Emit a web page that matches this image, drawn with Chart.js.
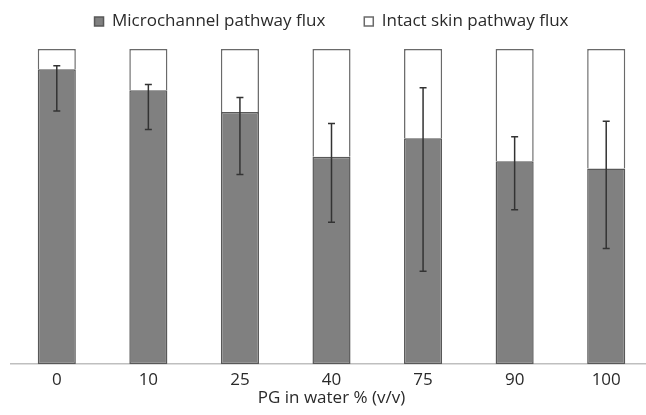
<!DOCTYPE html>
<html>
<head>
<meta charset="utf-8">
<script src="https://cdn.jsdelivr.net/npm/chart.js@4.4.1/dist/chart.umd.min.js"></script>
<style>
    html, body { margin: 0; padding: 0; background: #fff; overflow: hidden; }
    #wrap { width: 652px; height: 415px; }
</style>
</head>
<body>
<div id="wrap"><canvas id="fluxChart"></canvas></div>
<script>
// PG concentration groups
const categories = ['0', '10', '25', '40', '75', '90', '100'];

// share of total flux (%) through microchannels
const microchannelFlux = [93.6, 86.9, 80.0, 65.8, 71.7, 64.4, 62.1];
// remainder goes through intact skin
const intactSkinFlux = microchannelFlux.map(v => 100 - v);

// error bars on the microchannel share (up / down)
const errPlus = [1.1, 1.8, 4.6, 10.6, 16.0, 7.8, 15.0];
const errMinus = [13.3, 12.4, 19.8, 20.8, 42.2, 15.4, 25.4];

const textFont = { family: "'Open Sans', sans-serif", size: 17 };
const textColor = '#2a2a2a';

// draws the error bars on top of the grey segments
const errorBarsPlugin = {
    id: 'errorBars',
    afterDatasetsDraw(chart) {
        const meta = chart.getDatasetMeta(0);
        const y = chart.scales.y;
        const ctx = chart.ctx;
        ctx.save();
        ctx.strokeStyle = '#333333';
        ctx.lineWidth = 1.5;
        meta.data.forEach((bar, i) => {
            const v = microchannelFlux[i];
            const yTop = y.getPixelForValue(v + errPlus[i]);
            const yBot = y.getPixelForValue(v - errMinus[i]);
            const x = bar.x;
            ctx.beginPath();
            ctx.moveTo(x, yTop);
            ctx.lineTo(x, yBot);
            ctx.moveTo(x - 3.5, yTop);
            ctx.lineTo(x + 3.5, yTop);
            ctx.moveTo(x - 3.5, yBot);
            ctx.lineTo(x + 3.5, yBot);
            ctx.stroke();
        });
        ctx.restore();
    }
};

// legend padding is large (for the gap between items), so fix its height
const legendGap = {
    id: 'legendGap',
    beforeInit(chart) {
        const fit = chart.legend.fit;
        chart.legend.fit = function () {
            fit.call(this);
            this.height += 9;
        };
    }
};

const ctx = document.getElementById('fluxChart').getContext('2d');
new Chart(ctx, {
    type: 'bar',
    data: {
        labels: categories,
        datasets: [
            {
                label: 'Microchannel pathway flux',
                data: microchannelFlux,
                backgroundColor: '#808080',
                borderColor: '#585858',
                borderWidth: 1.5,
                borderSkipped: false,
                barPercentage: 0.416,
                categoryPercentage: 1
            },
            {
                label: 'Intact skin pathway flux',
                data: intactSkinFlux,
                backgroundColor: '#ffffff',
                borderColor: '#6a6a6a',
                borderWidth: 1.5,
                borderSkipped: 'bottom',
                barPercentage: 0.416,
                categoryPercentage: 1
            }
        ]
    },
    options: {
        responsive: true,
        maintainAspectRatio: false,
        animation: false,
        layout: {
            padding: { left: 11, right: 0, top: -26, bottom: 7 }
        },
        plugins: {
            legend: {
                position: 'top',
                labels: {
                    boxWidth: 9,
                    boxHeight: 9,
                    padding: 39,
                    color: textColor,
                    font: textFont
                }
            },
            tooltip: { enabled: false }
        },
        scales: {
            x: {
                stacked: true,
                grid: { display: false, drawTicks: false, tickLength: 0 },
                border: { display: true, color: '#bfbfbf', width: 1.5 },
                ticks: { color: textColor, font: textFont, padding: 6 },
                title: {
                    display: true,
                    text: 'PG in water % (v/v)',
                    color: textColor,
                    font: textFont,
                    padding: { top: -9, bottom: 0 }
                }
            },
            y: {
                stacked: true,
                display: false,
                min: 0,
                max: 100
            }
        }
    },
    plugins: [errorBarsPlugin, legendGap]
});
</script>
</body>
</html>
